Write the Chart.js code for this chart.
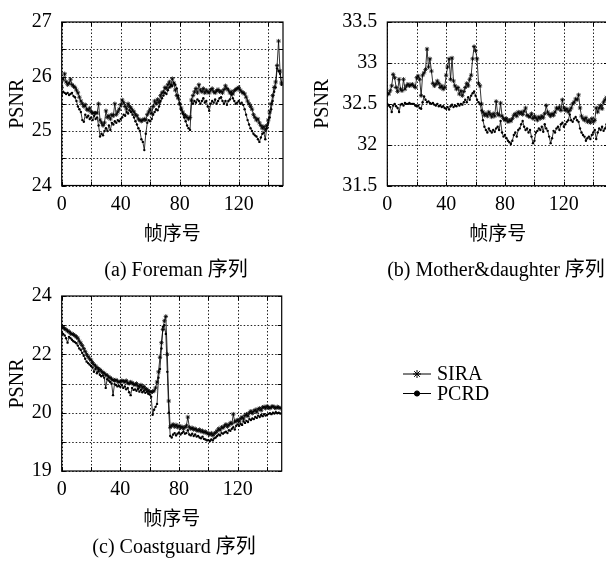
<!DOCTYPE html>
<html lang="zh">
<head>
<meta charset="UTF-8">
<title>PSNR 对比</title>
<script src="https://cdn.jsdelivr.net/npm/chart.js"></script>
<style>
  html, body { margin: 0; padding: 0; background: #fff; overflow: hidden; }
  body { width: 606px; height: 562px; position: relative; }
  canvas { position: absolute; }
  .caption {
    position: absolute; color: #000; white-space: nowrap;
    font-family: 'Liberation Serif', 'Noto Sans CJK SC', serif; font-size: 20px;
    transform: translate(-50%, -50%);
  }
</style>
</head>
<body>
<canvas id="chartA" width="300" height="250" style="left:0;top:0"></canvas>
<canvas id="chartB" width="320" height="250" style="left:300px;top:0"></canvas>
<canvas id="chartC" width="606" height="285" style="left:0;top:250px"></canvas>
<div class="caption" style="left:176px;top:267px">(a) Foreman 序列</div>
<div class="caption" style="left:496px;top:267px">(b) Mother&amp;daughter 序列</div>
<div class="caption" style="left:174px;top:544px">(c) Coastguard 序列</div>

<script>
// frame index 0..149
const frames = [];
for (let i = 0; i < 150; i++) frames.push(i);

const xGrid = [0, 20, 40, 60, 80, 100, 120, 140];
const xTickLabels = [0, 40, 80, 120];

// (a) Foreman
const foremanSIRA = [
  25.80, 25.95, 26.05, 25.90, 25.85, 25.88, 25.95, 25.85, 25.82, 25.80,
  25.75, 25.70, 25.62, 25.55, 25.50, 25.45, 25.48, 25.40, 25.38, 25.42,
  25.35, 25.33, 25.33, 25.33, 25.33, 25.50, 25.20, 25.15, 25.10, 25.15,
  25.37, 25.25, 25.28, 25.22, 25.30, 25.28, 25.50, 25.30, 25.35, 25.40,
  25.48, 25.57, 25.52, 25.45, 25.40, 25.50, 25.45, 25.42, 25.38, 25.35,
  25.30, 25.28, 25.22, 25.20, 25.18, 25.20, 25.22, 25.20, 25.30, 25.35,
  25.40, 25.32, 25.45, 25.55, 25.50, 25.58, 25.52, 25.65, 25.70, 25.72,
  25.80, 25.78, 25.85, 25.90, 25.82, 25.96, 25.88, 25.75, 25.65, 25.60,
  25.50, 25.42, 25.35, 25.30, 25.28, 25.25, 25.22, 25.25, 25.57, 25.65,
  25.72, 25.78, 25.70, 25.85, 25.75, 25.72, 25.78, 25.70, 25.75, 25.72,
  25.70, 25.75, 25.78, 25.72, 25.70, 25.74, 25.76, 25.72, 25.73, 25.70,
  25.76, 25.83, 25.78, 25.75, 25.70, 25.72, 25.68, 25.74, 25.76, 25.78,
  25.80, 25.75, 25.72, 25.70, 25.68, 25.62, 25.55, 25.50, 25.45, 25.40,
  25.30, 25.25, 25.20, 25.22, 25.15, 25.10, 25.05, 25.08, 25.02, 25.10,
  25.20, 25.35, 25.50, 25.65, 25.80, 25.90, 26.20, 26.65, 26.10, 25.88
];
const foremanPCRD = [
  25.65, 25.72, 25.70, 25.68, 25.70, 25.66, 25.68, 25.70, 25.64, 25.62,
  25.55, 25.45, 25.40, 25.35, 25.20, 25.17, 25.30, 25.25, 25.28, 25.22,
  25.25, 25.20, 25.28, 25.22, 25.25, 25.10, 24.90, 24.95, 24.92, 25.00,
  25.05, 25.00, 25.10, 25.02, 25.15, 25.12, 25.18, 25.15, 25.20, 25.18,
  25.22, 25.25, 25.30, 25.28, 25.35, 25.32, 25.38, 25.35, 25.30, 25.25,
  25.18, 25.12, 25.05, 25.00, 24.85, 24.80, 24.65, 24.95, 25.15, 25.20,
  25.18, 25.22, 25.30, 25.35, 25.40, 25.38, 25.45, 25.55, 25.60, 25.65,
  25.70, 25.68, 25.75, 25.80, 25.85, 25.83, 25.88, 25.85, 25.78, 25.65,
  25.50, 25.40, 25.32, 25.25, 25.18, 25.10, 25.05, 25.02, 25.55, 25.50,
  25.55, 25.52, 25.58, 25.55, 25.50, 25.55, 25.60, 25.52, 25.55, 25.45,
  25.37, 25.50, 25.55, 25.52, 25.58, 25.50, 25.55, 25.60, 25.62, 25.55,
  25.50, 25.55, 25.48, 25.55, 25.58, 25.67, 25.60, 25.55, 25.50, 25.52,
  25.55, 25.50, 25.52, 25.48, 25.40, 25.30, 25.20, 25.12, 25.05, 25.00,
  24.95, 24.92, 24.90, 24.85, 24.80, 24.88, 24.95, 24.97, 24.85, 25.05,
  25.15, 25.25, 25.40, 25.55, 25.72, 25.80, 26.15, 26.10, 26.05, 25.85
];
const yTicksA = [24, 24.5, 25, 25.5, 26, 26.5, 27];
const yLabelsA = [24, 25, 26, 27];

// (b) Mother&daughter
const motherSIRA = [
  32.63, 32.62, 32.66, 32.72, 32.86, 32.82, 32.70, 32.65, 32.80, 32.68,
  32.66, 32.80, 32.68, 32.72, 32.74, 32.72, 32.73, 32.74, 32.72, 32.70,
  32.82, 32.84, 32.80, 32.60, 32.85, 32.88, 32.92, 33.17, 32.95, 33.05,
  32.90, 32.75, 32.72, 32.74, 32.78, 32.75, 32.70, 32.72, 32.68, 32.70,
  32.85, 32.95, 33.05, 32.80, 33.06, 32.78, 32.72, 32.68, 32.70, 32.62,
  32.66, 32.60, 32.65, 32.70, 32.75, 32.72, 32.80, 32.85, 33.05, 33.20,
  33.15, 33.05, 32.75, 32.72, 32.50, 32.40, 32.36, 32.38, 32.35, 32.40,
  32.37, 32.34, 32.38, 32.35, 32.53, 32.38, 32.36, 32.51, 32.35, 32.32,
  32.30, 32.32, 32.28, 32.30, 32.29, 32.32, 32.36, 32.38, 32.35, 32.40,
  32.38, 32.40, 32.37, 32.41, 32.45, 32.36, 32.35, 32.34, 32.38, 32.32,
  32.35, 32.33, 32.30, 32.34, 32.32, 32.35, 32.33, 32.38, 32.48, 32.40,
  32.37, 32.35, 32.38, 32.36, 32.40, 32.45, 32.44, 32.46, 32.42, 32.55,
  32.45, 32.42, 32.44, 32.40, 32.42, 32.45, 32.50, 32.52, 32.56, 32.55,
  32.61, 32.45, 32.35, 32.32, 32.30, 32.33, 32.28, 32.30, 32.27, 32.32,
  32.28, 32.30, 32.45, 32.40, 32.45, 32.48, 32.44, 32.52, 32.55, 32.58
];
const motherPCRD = [
  32.50, 32.48, 32.46, 32.40, 32.48, 32.50, 32.47, 32.45, 32.40, 32.49,
  32.50, 32.48, 32.51, 32.50, 32.50, 32.51, 32.50, 32.50, 32.50, 32.48,
  32.47, 32.48, 32.45, 32.44, 32.52, 32.59, 32.55, 32.52, 32.53, 32.51,
  32.50, 32.51, 32.49, 32.48, 32.50, 32.47, 32.48, 32.46, 32.47, 32.45,
  32.44, 32.46, 32.43, 32.47, 32.49, 32.46, 32.48, 32.47, 32.50, 32.48,
  32.50, 32.49, 32.52, 32.55, 32.52, 32.58, 32.55, 32.60, 32.63, 32.65,
  32.60, 32.55, 32.52, 32.50, 32.42, 32.30, 32.22, 32.18, 32.15, 32.20,
  32.17, 32.15, 32.18, 32.16, 32.20, 32.22, 32.18, 32.29, 32.15, 32.10,
  32.12, 32.08, 32.05, 32.03, 32.01, 32.05, 32.12, 32.15, 32.10, 32.18,
  32.20, 32.25, 32.29, 32.22, 32.18, 32.20, 32.15, 32.18, 32.10, 32.02,
  32.05, 32.15, 32.17, 32.20, 32.18, 32.22, 32.16, 32.25, 32.20, 32.17,
  32.10, 32.02, 32.08, 32.17, 32.15, 32.20, 32.22, 32.18, 32.25, 32.27,
  32.22, 32.25, 32.28, 32.30, 32.37, 32.30, 32.28, 32.32, 32.34, 32.30,
  32.28, 32.20, 32.15, 32.12, 32.10, 32.05, 32.08, 32.10, 32.07, 32.12,
  32.15, 32.18, 32.07, 32.15, 32.20, 32.18, 32.22, 32.17, 32.20, 32.25
];
const yTicksB = [31.5, 32, 32.5, 33, 33.5];
const yLabelsB = [31.5, 32, 32.5, 33, 33.5];

// (c) Coastguard
const coastSIRA = [
  22.95, 22.92, 22.88, 22.85, 22.80, 22.78, 22.72, 22.70, 22.68, 22.64,
  22.60, 22.55, 22.45, 22.38, 22.30, 22.20, 22.10, 22.00, 21.92, 21.85,
  21.80, 21.72, 21.65, 21.60, 21.55, 21.50, 21.48, 21.42, 21.38, 21.35,
  21.30, 21.28, 21.22, 21.20, 21.15, 21.12, 21.10, 21.12, 21.08, 21.05,
  21.06, 21.10, 21.08, 21.05, 21.10, 21.02, 21.00, 21.05, 21.02, 20.98,
  20.95, 21.00, 20.92, 20.88, 20.95, 20.85, 20.90, 20.82, 20.80, 20.75,
  20.72, 20.70, 20.72, 20.75, 20.85, 21.05, 21.40, 21.90, 22.40, 22.85,
  23.15, 23.30, 22.00, 20.40, 19.50, 19.55, 19.60, 19.52, 19.58, 19.50,
  19.55, 19.48, 19.52, 19.45, 19.50, 19.55, 19.85, 19.50, 19.45, 19.48,
  19.42, 19.45, 19.40, 19.38, 19.42, 19.35, 19.38, 19.32, 19.35, 19.30,
  19.28, 19.25, 19.30, 19.22, 19.28, 19.32, 19.38, 19.45, 19.40, 19.50,
  19.48, 19.55, 19.60, 19.52, 19.58, 19.65, 19.62, 19.95, 19.68, 19.72,
  19.75, 19.70, 19.80, 19.85, 19.78, 19.90, 19.95, 19.88, 20.00, 20.05,
  19.98, 20.05, 20.10, 20.02, 20.12, 20.15, 20.08, 20.18, 20.20, 20.15,
  20.22, 20.18, 20.15, 20.20, 20.22, 20.18, 20.15, 20.20, 20.18, 20.15
];
const coastPCRD = [
  22.75, 22.70, 22.65, 22.55, 22.40, 22.60, 22.55, 22.50, 22.45, 22.42,
  22.38, 22.30, 22.20, 22.15, 22.05, 21.95, 21.85, 21.75, 21.70, 21.65,
  21.60, 21.55, 21.40, 21.50, 21.35, 21.42, 21.30, 21.25, 21.28, 21.20,
  20.85, 21.15, 21.10, 21.05, 21.00, 20.60, 20.98, 20.95, 20.90, 20.92,
  20.88, 20.95, 20.85, 20.90, 20.80, 20.85, 20.70, 20.60, 20.85, 20.78,
  20.80, 20.75, 20.82, 20.72, 20.78, 20.70, 20.75, 20.68, 20.72, 20.65,
  20.62, 20.55, 19.93, 20.10, 20.20, 20.30, 21.20, 21.50, 22.20, 22.95,
  23.00, 22.70, 21.40, 20.00, 19.20, 19.15, 19.25, 19.30, 19.22, 19.28,
  19.32, 19.25, 19.30, 19.35, 19.28, 19.30, 19.40, 19.25, 19.22, 19.28,
  19.20, 19.25, 19.18, 19.20, 19.15, 19.12, 19.18, 19.10, 19.08, 19.05,
  19.06, 19.03, 19.08, 19.05, 19.12, 19.15, 19.20, 19.25, 19.22, 19.30,
  19.28, 19.32, 19.35, 19.30, 19.40, 19.38, 19.45, 19.50, 19.42, 19.55,
  19.60, 19.55, 19.62, 19.58, 19.70, 19.65, 19.72, 19.68, 19.78, 19.75,
  19.80, 19.78, 19.85, 19.82, 19.90, 19.85, 19.92, 19.88, 19.95, 19.90,
  19.92, 19.96, 19.98, 19.95, 20.00, 19.97, 20.02, 19.98, 20.00, 19.97
];
// bottom gridline of panel (c) is labelled "19" in the original
const yTicksC = [18, 19, 20, 21, 22, 23, 24];
const yLabelsC = { 18: '19', 20: '20', 22: '22', 24: '24' };

const serif = "'Liberation Serif', serif";
const cjk = "'Noto Sans CJK SC', sans-serif";

function toPoints(values) {
  return values.map((v, i) => ({ x: frames[i], y: v }));
}

function datasets(sira, pcrd) {
  return [
    {
      label: 'SIRA', data: toPoints(sira),
      borderColor: '#000', backgroundColor: '#000', borderWidth: 0.8,
      pointStyle: 'star', pointRadius: 2.2, pointBorderWidth: 0.8, tension: 0
    },
    {
      label: 'PCRD', data: toPoints(pcrd),
      borderColor: '#000', backgroundColor: '#000', borderWidth: 0.8,
      pointStyle: 'circle', pointRadius: 1.2, pointBorderWidth: 0, tension: 0
    }
  ];
}

// dotted grid (drawn under the lines) from the scales' own ticks
const dottedGrid = {
  id: 'dottedGrid',
  beforeDatasetsDraw(chart) {
    const { ctx, chartArea: a, scales } = chart;
    ctx.save();
    ctx.strokeStyle = '#222';
    ctx.lineWidth = 1;
    ctx.setLineDash([1.5, 2]);
    ctx.beginPath();
    scales.x.ticks.forEach(t => {
      const px = Math.round(scales.x.getPixelForValue(t.value)) + 0.5;
      ctx.moveTo(px, a.top); ctx.lineTo(px, a.bottom);
    });
    scales.y.ticks.forEach(t => {
      const py = Math.round(scales.y.getPixelForValue(t.value)) + 0.5;
      ctx.moveTo(a.left, py); ctx.lineTo(a.right, py);
    });
    ctx.stroke();
    ctx.restore();
  }
};

// black frame and small inward ticks, like the original plot
const framePlugin = {
  id: 'frame',
  afterDraw(chart) {
    const { ctx, chartArea: a, scales } = chart;
    ctx.save();
    ctx.strokeStyle = '#000';
    ctx.lineWidth = 1;
    ctx.beginPath();
    scales.x.ticks.forEach(t => {
      const px = Math.round(scales.x.getPixelForValue(t.value)) + 0.5;
      ctx.moveTo(px, a.bottom); ctx.lineTo(px, a.bottom - 4);
      ctx.moveTo(px, a.top); ctx.lineTo(px, a.top + 4);
    });
    scales.y.ticks.forEach(t => {
      const py = Math.round(scales.y.getPixelForValue(t.value)) + 0.5;
      ctx.moveTo(a.left, py); ctx.lineTo(a.left + 4, py);
      ctx.moveTo(a.right, py); ctx.lineTo(a.right - 4, py);
    });
    ctx.stroke();
    ctx.lineWidth = 1.2;
    ctx.strokeRect(a.left, a.top, a.right - a.left, a.bottom - a.top);
    ctx.restore();
  }
};

// free-standing legend to the right of panel (c)
const legendPlugin = {
  id: 'sideLegend',
  afterDraw(chart, args, opts) {
    if (!opts.show) return;
    const ctx = chart.ctx;
    ctx.save();
    chart.data.datasets.forEach((ds, i) => {
      const y = opts.y + i * opts.gap;
      ctx.strokeStyle = '#000';
      ctx.lineWidth = 1;
      ctx.beginPath();
      ctx.moveTo(opts.x, y); ctx.lineTo(opts.x + 28, y);
      ctx.stroke();
      ctx.fillStyle = '#000';
      Chart.helpers.drawPoint(ctx, {
        pointStyle: ds.pointStyle, radius: ds.pointStyle === 'star' ? 4 : 2.6,
        rotation: 0, borderWidth: 1
      }, opts.x + 14, y);
      ctx.font = '20px ' + serif;
      ctx.textBaseline = 'middle';
      ctx.fillText(ds.label, opts.x + 34, y + 1);
    });
    ctx.restore();
  }
};

function makePanel(id, p) {
  return new Chart(document.getElementById(id), {
    type: 'line',
    data: { datasets: datasets(p.sira, p.pcrd) },
    plugins: [dottedGrid, framePlugin, legendPlugin],
    options: {
      responsive: false,
      animation: false,
      layout: { padding: p.padding },
      plugins: {
        legend: { display: false },
        tooltip: { enabled: false },
        sideLegend: p.legend || { show: false }
      },
      scales: {
        x: {
          type: 'linear', min: 0, max: 150,
          afterBuildTicks: s => { s.ticks = xGrid.map(v => ({ value: v })); },
          afterFit: s => { s.height = p.xHeight; },
          grid: { display: false, drawTicks: false },
          border: { display: false },
          ticks: {
            padding: 7, maxRotation: 0, autoSkip: false, color: '#000',
            font: { family: serif, size: 20 },
            callback: v => xTickLabels.includes(v) ? String(v) : ''
          },
          title: {
            display: true, text: '帧序号', color: '#000',
            font: { family: cjk, size: 19 }, padding: { top: 0, bottom: p.xTitlePad }
          }
        },
        y: {
          min: p.yMin, max: p.yMax,
          afterBuildTicks: s => { s.ticks = p.yTicks.map(v => ({ value: v })); },
          afterFit: s => { s.width = p.yWidth; },
          grid: { display: false, drawTicks: false },
          border: { display: false },
          ticks: {
            padding: 10, color: '#000',
            font: { family: serif, size: 20 },
            callback: p.yLabel
          },
          title: {
            display: true, text: 'PSNR', color: '#000',
            font: { family: serif, size: 20 }, padding: { top: p.yTitlePad, bottom: 0 }
          }
        }
      }
    }
  });
}

makePanel('chartA', {
  sira: foremanSIRA, pcrd: foremanPCRD,
  yMin: 24, yMax: 27, yTicks: yTicksA,
  yLabel: v => yLabelsA.includes(v) ? String(v) : '',
  padding: { top: 13, right: 17, left: 0, bottom: 0 },
  yWidth: 61.7, xHeight: 64.5, xTitlePad: 6, yTitlePad: 6
});

makePanel('chartB', {
  sira: motherSIRA, pcrd: motherPCRD,
  yMin: 31.5, yMax: 33.5, yTicks: yTicksB,
  yLabel: v => yLabelsB.includes(v) ? String(v) : '',
  padding: { top: 13.3, right: 12, left: 0, bottom: 0 },
  yWidth: 87.3, xHeight: 64.3, xTitlePad: 6, yTitlePad: 11
});

makePanel('chartC', {
  sira: coastSIRA, pcrd: coastPCRD,
  yMin: 18, yMax: 24, yTicks: yTicksC,
  yLabel: v => yLabelsC[v] || '',
  padding: { top: 46, right: 324.3, left: 0, bottom: 0 },
  yWidth: 61.7, xHeight: 64, xTitlePad: 5.5, yTitlePad: 6,
  legend: { show: true, x: 403, y: 124, gap: 19.5 }
});
</script>
</body>
</html>
